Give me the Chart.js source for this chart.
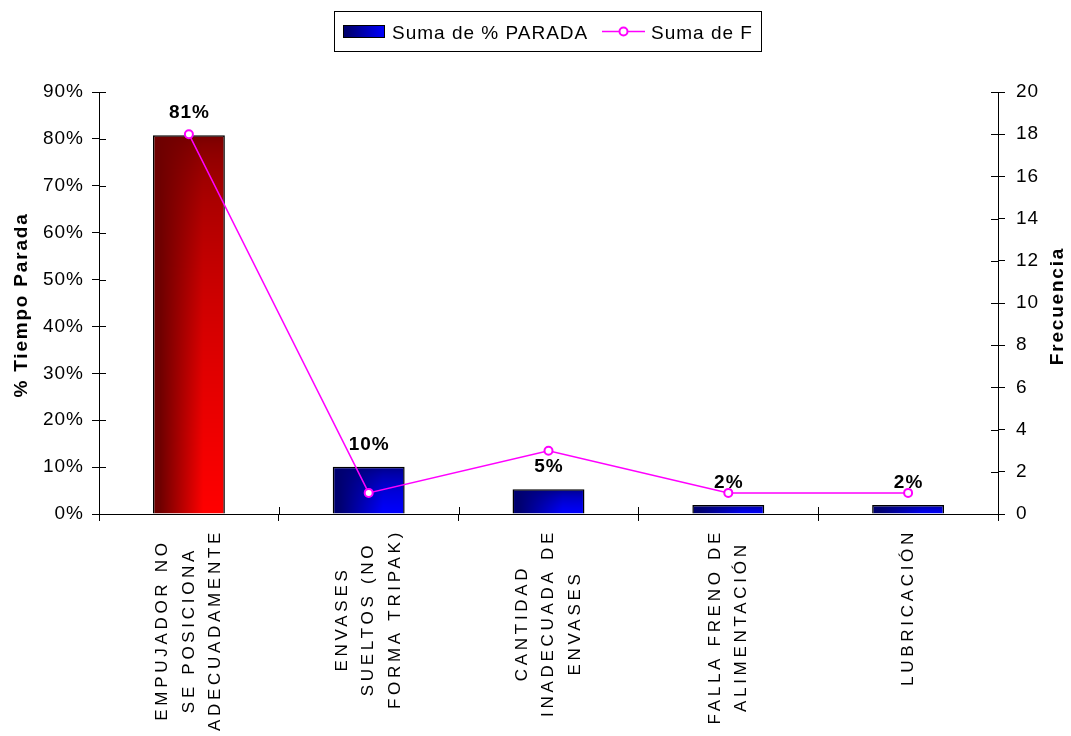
<!DOCTYPE html>
<html>
<head>
<meta charset="utf-8">
<script src="https://cdn.jsdelivr.net/npm/chart.js@4"></script>
<style>
html,body{margin:0;padding:0;background:#fff;}
canvas{display:block;}
</style>
</head>
<body>
<canvas id="c" width="1071" height="736"></canvas>
<script>
// ---- data ----
const categories = [
  ["EMPUJADOR NO", "SE POSICIONA", "ADECUADAMENTE"],
  ["ENVASES", "SUELTOS (NO", "FORMA TRIPAK)"],
  ["CANTIDAD", "INADECUADA DE", "ENVASES"],
  ["FALLA FRENO DE", "ALIMENTACIÓN"],
  ["LUBRICACIÓN"]
];
const pctParada = [80.8, 10.1, 5.3, 1.9, 1.9];
const frecuencia = [18, 1, 3, 1, 1];
const seriesNames = ["Suma de % PARADA", "Suma de F"];
const axisTitles = ["% Tiempo Parada", "Frecuencia"];

const FONT = '"Liberation Sans", Arial, sans-serif';
const RED_DARK = [110, 0, 0], RED_BRIGHT = [255, 0, 0];
const BLUE_DARK = [0, 0, 112], BLUE_BRIGHT = [0, 0, 255];

function clamp01(t) { return Math.min(1, Math.max(0, t)); }
function shade(u, v) {
  const hu = clamp01((u - 0.1) / 0.6);
  return hu * Math.sqrt(clamp01(v));
}

const patternCache = {};
function barFill(ctx) {
  const chart = ctx.chart;
  const xs = chart.scales.x, ys = chart.scales.y;
  const i = ctx.dataIndex;
  const dark = i === 0 ? RED_DARK : BLUE_DARK;
  const bright = i === 0 ? RED_BRIGHT : BLUE_BRIGHT;
  if (ctx.type !== 'data' || !chart.chartArea || !xs || !ys || !xs.width) return 'rgb(' + dark.join(',') + ')';
  const cx = xs.getPixelForValue(i);
  const w = xs.width / categories.length * 0.4;
  const left = cx - w / 2, right = cx + w / 2;
  const top = ys.getPixelForValue(pctParada[i]), bottom = ys.getPixelForValue(0);
  const key = [i, left, top, right, bottom].map(Math.round).join(',');
  if (patternCache[key]) return patternCache[key];
  const off = document.createElement('canvas');
  off.width = chart.width; off.height = chart.height;
  const c = off.getContext('2d');
  const x0 = Math.floor(left) - 1, y0 = Math.floor(top) - 1;
  const W = Math.ceil(right) - x0 + 2, H = Math.ceil(bottom) - y0 + 2;
  const img = c.createImageData(W, H);
  for (let yy = 0; yy < H; yy++) {
    for (let xx = 0; xx < W; xx++) {
      const u = (x0 + xx + 0.5 - left) / (right - left);
      const v = (y0 + yy + 0.5 - top) / (bottom - top);
      const t = shade(u, v);
      const k = (yy * W + xx) * 4;
      for (let ch = 0; ch < 3; ch++) img.data[k + ch] = Math.round(dark[ch] + (bright[ch] - dark[ch]) * t);
      img.data[k + 3] = 255;
    }
  }
  c.putImageData(img, x0, y0);
  const p = chart.ctx.createPattern(off, 'no-repeat');
  patternCache[key] = p;
  return p;
}

function crisp(p) { return Math.round(p) + 0.5; }
function seg(ctx, x1, y1, x2, y2) { ctx.beginPath(); ctx.moveTo(x1, y1); ctx.lineTo(x2, y2); ctx.stroke(); }

const decorPlugin = {
  id: 'decor',
  beforeDraw(chart) { chart.ctx.letterSpacing = '1px'; },
  afterDraw(chart) {
    const ctx = chart.ctx;
    const { x, y, y1 } = chart.scales;
    const area = chart.chartArea;
    ctx.save();
    ctx.strokeStyle = '#000';
    ctx.lineWidth = 1;
    // inner halves of tick marks
    y.ticks.forEach(t => { const p = crisp(y.getPixelForValue(t.value)); seg(ctx, area.left, p, area.left + 7, p); });
    y1.ticks.forEach(t => { const p = crisp(y1.getPixelForValue(t.value)); seg(ctx, area.right - 7, p, area.right, p); });
    for (let i = 0; i <= categories.length; i++) {
      const p = crisp(x.getPixelForValue(i - 0.5));
      seg(ctx, p, area.bottom - 7, p, area.bottom);
    }

    // data labels
    ctx.fillStyle = '#000';
    ctx.letterSpacing = '1px';
    ctx.font = 'bold 19px ' + FONT;
    ctx.textAlign = 'center';
    ctx.textBaseline = 'alphabetic';
    chart.getDatasetMeta(0).data.forEach((bar, i) => {
      ctx.fillText(Math.round(pctParada[i]) + '%', bar.x + 0.5, bar.y - 17);
    });

    // category labels (rotated, centered lines)
    ctx.font = '17px ' + FONT;
    ctx.letterSpacing = '3.7px';
    categories.forEach((lines, i) => {
      const cx = x.getPixelForValue(i);
      const widths = lines.map(l => ctx.measureText(l).width);
      const Wm = Math.max(...widths);
      ctx.save();
      ctx.translate(cx, area.bottom + 15);
      ctx.rotate(-Math.PI / 2);
      ctx.textAlign = 'center';
      ctx.textBaseline = 'middle';
      lines.forEach((l, j) => {
        ctx.fillText(l, -Wm / 2, (j - (lines.length - 1) / 2) * 26.5);
      });
      ctx.restore();
    });

    // axis titles
    ctx.font = 'bold 19px ' + FONT;
    ctx.letterSpacing = '1.8px';
    ctx.textAlign = 'center';
    ctx.textBaseline = 'alphabetic';
    ctx.save();
    ctx.translate(27, (area.top + area.bottom) / 2 + 2);
    ctx.rotate(-Math.PI / 2);
    ctx.fillText(axisTitles[0], 0, 0);
    ctx.restore();
    ctx.save();
    ctx.translate(1063, (area.top + area.bottom) / 2 + 3);
    ctx.rotate(-Math.PI / 2);
    ctx.fillText(axisTitles[1], 0, 0);
    ctx.restore();

    // legend
    ctx.letterSpacing = '1px';
    ctx.lineWidth = 1;
    ctx.strokeStyle = '#000';
    ctx.strokeRect(334.5, 11.5, 427, 40);
    const g = ctx.createLinearGradient(343, 0, 385, 0);
    g.addColorStop(0, 'rgb(0,0,112)');
    g.addColorStop(0.1, 'rgb(0,0,112)');
    g.addColorStop(1, 'rgb(0,0,255)');
    ctx.fillStyle = g;
    ctx.fillRect(343, 25, 42, 13);
    ctx.strokeRect(343.5, 25.5, 41, 12);
    ctx.fillStyle = '#000';
    ctx.font = '19px ' + FONT;
    ctx.textAlign = 'left';
    ctx.textBaseline = 'alphabetic';
    ctx.fillText(chart.data.datasets[0].label, 392, 38.5);
    ctx.strokeStyle = '#ff00ff';
    ctx.lineWidth = 1.5;
    seg(ctx, 602, 31.5, 645, 31.5);
    ctx.beginPath();
    ctx.arc(623.5, 31.5, 4, 0, Math.PI * 2);
    ctx.fillStyle = '#fff';
    ctx.fill();
    ctx.lineWidth = 2;
    ctx.stroke();
    ctx.fillStyle = '#000';
    ctx.fillText(chart.data.datasets[1].label, 651, 38.5);
    ctx.restore();
  }
};

const tickFont = { family: FONT, size: 19 };

new Chart(document.getElementById('c'), {
  type: 'bar',
  data: {
    labels: categories,
    datasets: [
      {
        type: 'bar',
        label: seriesNames[0],
        data: pctParada,
        yAxisID: 'y',
        backgroundColor: barFill,
        borderColor: '#000',
        borderWidth: 1.5,
        barPercentage: 0.4,
        categoryPercentage: 1,
        order: 2
      },
      {
        type: 'line',
        label: seriesNames[1],
        data: frecuencia,
        yAxisID: 'y1',
        borderColor: '#ff00ff',
        borderWidth: 1.5,
        pointRadius: 4,
        pointBackgroundColor: '#fff',
        pointBorderColor: '#ff00ff',
        pointBorderWidth: 2,
        tension: 0,
        order: 1
      }
    ]
  },
  options: {
    responsive: false,
    animation: false,
    events: [],
    layout: { padding: { top: 92, left: 0, right: 0, bottom: 0 } },
    plugins: { legend: { display: false }, tooltip: { enabled: false } },
    scales: {
      x: {
        offset: true,
        grid: { offset: true, drawOnChartArea: false, tickLength: 7, color: '#000', lineWidth: 1 },
        border: { color: '#000' },
        ticks: { display: false },
        afterFit(s) { s.height = 222; }
      },
      y: {
        position: 'left',
        min: 0, max: 90,
        ticks: { stepSize: 10, callback: v => v + '%', font: tickFont, color: '#000', padding: 8 },
        grid: { drawOnChartArea: false, tickLength: 7, color: '#000' },
        border: { color: '#000' },
        afterFit(s) { s.width = 99; }
      },
      y1: {
        position: 'right',
        min: 0, max: 20,
        ticks: { stepSize: 2, font: tickFont, color: '#000', padding: 11 },
        grid: { drawOnChartArea: false, tickLength: 7, color: '#000' },
        border: { color: '#000' },
        afterFit(s) { s.width = 73; }
      }
    }
  },
  plugins: [decorPlugin]
});
</script>
</body>
</html>
